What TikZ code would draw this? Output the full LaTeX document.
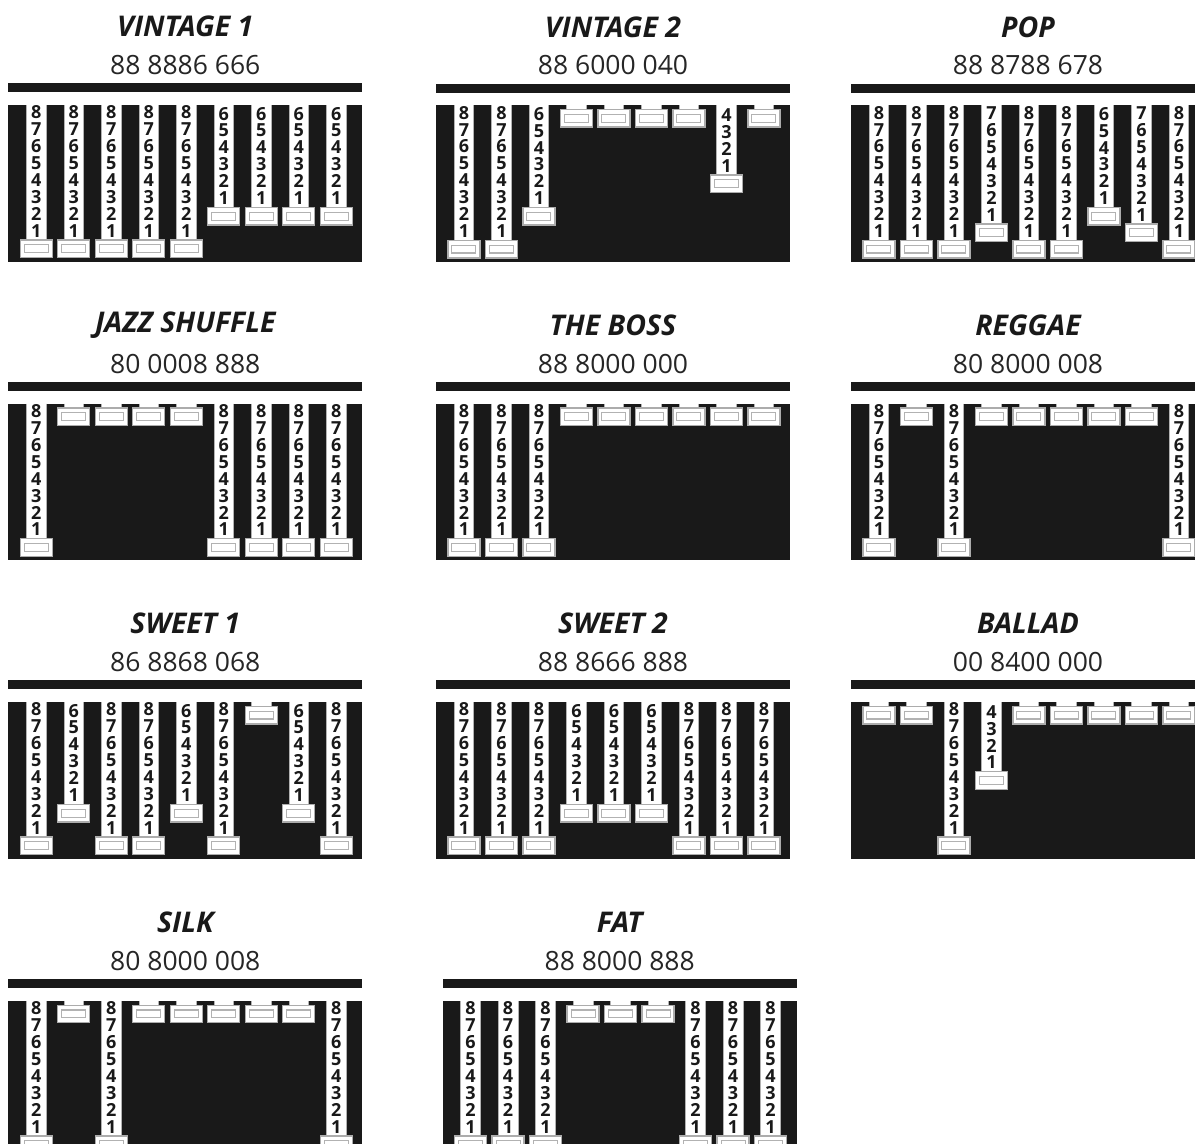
\documentclass[tikz,border=0pt]{standalone}
\usepackage{fontspec}
\setmainfont{Open Sans}
\tikzset{
  panelbg/.style={fill=black!90},
  bandfill/.style={fill=white},
  stripfill/.style={fill=white},
  stripedge/.style={draw=gray!60, line width=0.8pt},
  knob/.style={fill=white, draw=gray!65, line width=1.4pt},
  knobin/.style={draw=gray!60, line width=1.1pt},
  titletext/.style={font=\fontsize{28.5}{30}\selectfont\bfseries\itshape, inner sep=0pt, text=black!90},
  codetext/.style={font=\fontsize{26.5}{28}\selectfont, inner sep=0pt, text=black!85},
  digittext/.style={font=\fontsize{18}{18}\selectfont\bfseries, inner sep=0pt, text=black!90},
}
\newcommand\organpanel[6]{%
  \begin{scope}[shift={(#2,#3)}]
    \node[titletext] (#1-title) at (177,-56.6) {#4};
    \node[codetext] (#1-code) at (177,-18.3) {#5};
    \fill[panelbg] (0,0) rectangle (354,178.4);
    \fill[bandfill] (0,9) rectangle (354,21.7);
    \foreach \v [count=\i from 0] in {#6} {
      \pgfmathsetmacro\cx{27.9+37.5*\i}
      \pgfmathsetmacro\kt{26+16.35*\v}
      \fill[stripfill] (\cx-9.8,20) rectangle (\cx+9.8,\kt);
      \draw[stripedge] (\cx-9.8,21.7) -- (\cx-9.8,\kt) (\cx+9.8,21.7) -- (\cx+9.8,\kt);
      \ifnum\v>0
        \foreach \k in {1,...,\v} {
          \pgfmathsetmacro\dy{\kt-9.3-16.9*(\k-1)}
          \node[digittext] (#1-s\i-d\k) at (\cx,\dy) {\k};
        }
      \fi
      \draw[knob] (\cx-16,\kt) rectangle (\cx+16,\kt+17.5);
      \draw[knobin] (\cx-12,\kt+4.8) rectangle (\cx+12,\kt+12.7);
    }
  \end{scope}%
}
\begin{document}
\begin{tikzpicture}[x=1pt,y=-1pt]
\useasboundingbox (0,0) rectangle (1195,1144);
\fill[white] (0,0) rectangle (1195,1144);
\clip (0,0) rectangle (1195,1144);
% row 1
\organpanel{vintA}{8.3}{83.3}{VINTAGE 1}{88 8886 666}{8,8,8,8,8,6,6,6,6}
\organpanel{vintB}{436}{83.5}{VINTAGE 2}{88 6000 040}{8,8,6,0,0,0,0,4,0}
\organpanel{pop}{851}{83.5}{POP}{88 8788 678}{8,8,8,7,8,8,6,7,8}
% row 2
\organpanel{jazz}{8.3}{381.9}{JAZZ SHUFFLE}{80 0008 888}{8,0,0,0,0,8,8,8,8}
\organpanel{boss}{436}{381.9}{THE BOSS}{88 8000 000}{8,8,8,0,0,0,0,0,0}
\organpanel{reggae}{851}{381.9}{REGGAE}{80 8000 008}{8,0,8,0,0,0,0,0,8}
% row 3
\organpanel{sweetA}{8.3}{680.3}{SWEET 1}{86 8868 068}{8,6,8,8,6,8,0,6,8}
\organpanel{sweetB}{436}{680.3}{SWEET 2}{88 8666 888}{8,8,8,6,6,6,8,8,8}
\organpanel{ballad}{851}{680.3}{BALLAD}{00 8400 000}{0,0,8,4,0,0,0,0,0}
% row 4
\organpanel{silk}{8.3}{979.2}{SILK}{80 8000 008}{8,0,8,0,0,0,0,0,8}
\organpanel{fat}{442.7}{979.2}{FAT}{88 8000 888}{8,8,8,0,0,0,8,8,8}
\end{tikzpicture}
\end{document}
